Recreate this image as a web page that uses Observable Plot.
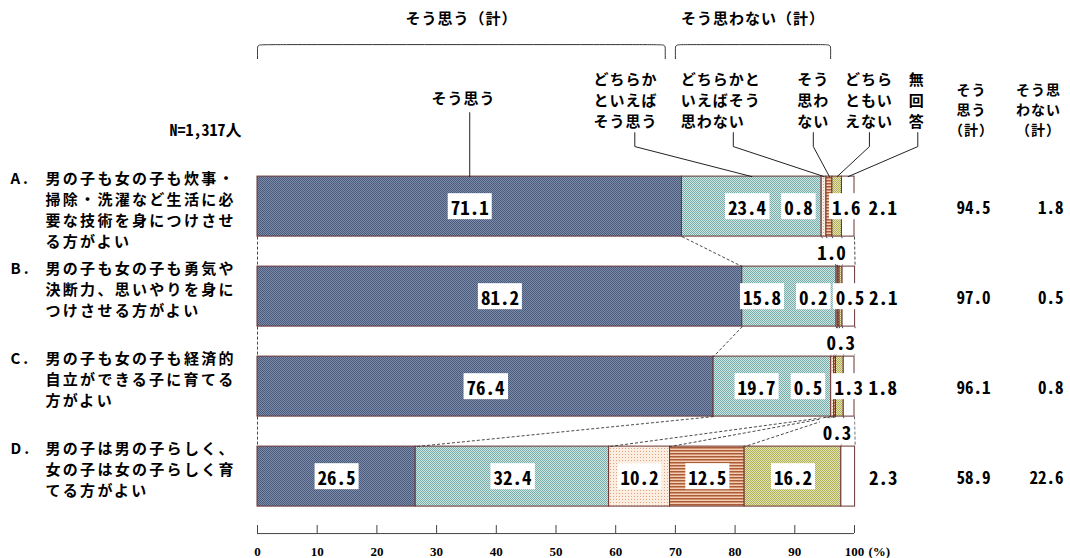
<!DOCTYPE html>
<html>
<head>
<meta charset="utf-8">
<script src="https://cdn.jsdelivr.net/npm/d3@7"></script>
<script src="https://cdn.jsdelivr.net/npm/@observablehq/plot@0.6"></script>
<style>
  body { margin: 0; background: #fff; }
  #chart svg { display: block; }
  text[aria-label="item text"] { letter-spacing: 2.3px; }
  text[aria-label="item letter"] { letter-spacing: 3px; }
  text[aria-label="legend text"] { letter-spacing: 1px; }
  text[aria-label="total header"] { letter-spacing: 1px; }
</style>
</head>
<body>
<svg width="0" height="0" style="position:absolute">
  <defs>
    <pattern id="pat-agree" width="2" height="2" patternUnits="userSpaceOnUse">
      <rect width="2" height="2" fill="#7d8ca8"/>
      <rect width="1" height="1" fill="#4a5a7c"/>
      <rect x="1" y="1" width="1" height="1" fill="#4a5a7c"/>
    </pattern>
    <pattern id="pat-lean-agree" width="2" height="2" patternUnits="userSpaceOnUse">
      <rect width="2" height="2" fill="#d0e6e3"/>
      <rect width="1" height="1" fill="#76acaa"/>
      <rect x="1" y="1" width="1" height="1" fill="#76acaa"/>
    </pattern>
    <pattern id="pat-lean-disagree" width="3" height="3" patternUnits="userSpaceOnUse">
      <rect width="3" height="3" fill="#fcede1"/>
      <rect x="1" y="1" width="1" height="1" fill="#dfa383"/>
    </pattern>
    <pattern id="pat-disagree" width="3" height="3" patternUnits="userSpaceOnUse">
      <rect width="3" height="3" fill="#f2cdb4"/>
      <rect width="3" height="1" fill="#a85c38"/>
      <rect y="1" width="3" height="1" fill="#d39370"/>
    </pattern>
    <pattern id="pat-neutral" width="2" height="2" patternUnits="userSpaceOnUse">
      <rect width="2" height="2" fill="#e3e3b3"/>
      <rect width="1" height="1" fill="#b0b058"/>
      <rect x="1" y="1" width="1" height="1" fill="#b0b058"/>
    </pattern>
  </defs>
</svg>
<div id="chart"></div>
<script>
// ---- data ----------------------------------------------------------------
const itemLetters = ["A.", "B.", "C.", "D."];
const itemTexts = [
  "男の子も女の子も炊事・\n掃除・洗濯など生活に必\n要な技術を身につけさせ\nる方がよい",
  "男の子も女の子も勇気や\n決断力、思いやりを身に\nつけさせる方がよい",
  "男の子も女の子も経済的\n自立ができる子に育てる\n方がよい",
  "男の子は男の子らしく、\n女の子は女の子らしく育\nてる方がよい"
];
const responses = ["そう思う", "どちらかといえばそう思う", "どちらかといえばそう思わない", "そう思わない", "どちらともいえない", "無回答"];
const legendTexts = ["そう思う", "どちらか\nといえば\nそう思う", "どちらかと\nいえばそう\n思わない", "そう\n思わ\nない", "どちら\nともい\nえない", "無\n回\n答"];
const rowA = [71.1, 23.4, 0.8, 1.0, 1.6, 2.1];
const rowB = [81.2, 15.8, 0.2, 0.3, 0.5, 2.1];
const rowC = [76.4, 19.7, 0.5, 0.3, 1.3, 1.8];
const rowD = [26.5, 32.4, 10.2, 12.5, 16.2, 2.3];
const agreeTotals = [94.5, 97.0, 96.1, 58.9];
const disagreeTotals = [1.8, 0.5, 0.8, 22.6];
const totalHeaders = ["そう\n思う\n（計）", "そう思\nわない\n（計）"];
const groupTitles = ["そう思う（計）", "そう思わない（計）"];
const sampleLabel = "N=1,317人";
const xTicks = [0, 10, 20, 30, 40, 50, 60, 70, 80, 90, 100];
const unitLabel = "(%)";

// ---- styling ---------------------------------------------------------------
const jp = "'Noto Sans CJK JP', 'Noto Sans', sans-serif";
const mono = "'Noto Sans Mono CJK JP', 'DejaVu Sans Mono', monospace";
const serif = "'Liberation Serif', 'DejaVu Serif', serif";
const fills = ["url(#pat-agree)", "url(#pat-lean-agree)", "url(#pat-lean-disagree)", "url(#pat-disagree)", "url(#pat-neutral)", "#ffffff"];
const edge = "#6a3434";
const tag = name => () => name;   // per-element aria-label, used for styling hooks

// y is measured in rows: row i is centred on i, bars are 2/3 of a row tall
const half = 1 / 3;
const rows = [rowA, rowB, rowC, rowD];

const segments = rows.flatMap((vals, row) => {
  let acc = 0;
  return vals.map((value, k) => {
    const x1 = acc;
    acc += value;
    return {row, k, value, x1, x2: acc, mid: (x1 + acc) / 2};
  });
});
const segsOf = r => segments.filter(d => d.row === r);

// dashed guides linking matching boundaries of neighbouring bars
const connectors = [];
for (let r = 0; r < rows.length - 1; r++) {
  const up = segsOf(r), dn = segsOf(r + 1);
  connectors.push({x1: 0, x2: 0, y1: r + half, y2: r + 1 - half});
  up.forEach((d, k) => connectors.push({x1: d.x2, x2: dn[k].x2, y1: r + half, y2: r + 1 - half}));
}

// where each value label goes: wide segments are labelled in place,
// thin ones are pushed aside so that the numbers stay readable
const SMALL = 5;
const ROOM = 12.5;  // room (in %) kept free for a pushed-aside label
const valueLabels = segments.map(d => {
  const text = d.value.toFixed(1);
  const rs = segsOf(d.row);
  if (d.k === 5) return {text, x: d.x2, y: d.row, place: "outside"};
  if (d.value >= SMALL) {
    const crowded = d.k === 1 && rs[2].value < SMALL;
    return {text, x: crowded ? Math.min(d.mid, d.x2 - ROOM) : d.mid, y: d.row, place: "centre"};
  }
  if (d.k === 2) return {text, x: d.x1, y: d.row, place: "before"};
  if (d.k === 3) return {text, x: d.mid, y: d.row + 0.5, place: "below"};
  return {text, x: d.mid, y: d.row, place: "after"};
});
const placeStyle = {
  centre: {textAnchor: "middle", dx: 0},
  before: {textAnchor: "end", dx: -9},
  below: {textAnchor: "middle", dx: 2},
  after: {textAnchor: "middle", dx: 9},
  outside: {textAnchor: "start", dx: 14}
};
const valueMarks = Object.entries(placeStyle).map(([place, s]) =>
  Plot.text(valueLabels.filter(d => d.place === place), {
    x: "x", y: "y", text: "text", ...s, dy: 2,
    fontFamily: mono, fontSize: 19, fontWeight: "bold", fill: "#000",
    ariaLabel: tag("value label")
  })
);

// key across the top, with leader lines down to the first bar
const legendLayout = [
  {textX: 34.5, leaderX: null},
  {textX: 56.3, leaderX: 63.2},
  {textX: 70.9, leaderX: 79.7},
  {textX: 90.4, leaderX: 93.1},
  {textX: 98.4, leaderX: 102.5},
  {textX: 109.1, leaderX: 110.6}
];
const legendY = -1.189, leaderTop = -0.822, leaderTopSingle = -1.044, leaderKnee = -0.667;
const firstRow = segsOf(0);
const legendItems = legendTexts.map((text, k) => ({text, x: legendLayout[k].textX, k}));
const leaderPts = legendLayout.flatMap((L, k) => {
  const end = {x: firstRow[k].mid, y: -half, k};
  if (L.leaderX === null) return [{x: end.x, y: leaderTopSingle, k}, end];
  return [{x: L.leaderX, y: leaderTop, k}, {x: L.leaderX, y: leaderKnee, k}, end];
});

// group brackets
const braceTop = -1.8, braceEnd = -1.644, titleY = -2.078;
const braces = [{x0: 0, x1: 68.3, title: groupTitles[0]}, {x0: 70.0, x1: 96.0, title: groupTitles[1]}];
const bracePts = braces.flatMap((b, i) => [
  [b.x0, braceEnd], [b.x0, braceTop + 0.05], [b.x0, braceTop], [b.x0 + 1.2, braceTop],
  [b.x1 - 1.2, braceTop], [b.x1, braceTop], [b.x1, braceTop + 0.05], [b.x1, braceEnd]
].map(([x, y]) => ({x, y, i})));

const items = itemTexts.map((text, row) => ({row, text, letter: itemLetters[row]}));
const totals = agreeTotals.map((v, row) => ({row, agree: v.toFixed(1), disagree: disagreeTotals[row].toFixed(1)}));
const headers = totalHeaders.map((text, i) => ({text, i}));

const axisY = 3.633, tickTop = 3.544, tickLabelY = 3.833;

const chart = Plot.plot({
  width: 1070,
  height: 558,
  marginLeft: 257,
  marginRight: 216,
  marginTop: 0,
  marginBottom: 0,
  x: {domain: [0, 100], axis: null},
  y: {domain: [-2.29, 3.91], range: [0, 558], axis: null},
  color: {type: "identity"},
  style: {fontFamily: jp, color: "#000", background: "#fff"},
  marks: [
    // bars
    Plot.rect(segments, {
      x1: "x1", x2: "x2", y1: d => d.row - half, y2: d => d.row + half,
      fill: d => fills[d.k], stroke: edge, strokeWidth: 1
    }),
    Plot.link(connectors, {
      x1: "x1", y1: "y1", x2: "x2", y2: "y2",
      stroke: "#333", strokeWidth: 0.9, strokeDasharray: "3,2"
    }),
    ...valueMarks,

    // item captions on the left
    Plot.text(items, {
      y: d => d.row - half, text: "letter", frameAnchor: "left", textAnchor: "start",
      lineAnchor: "top", dx: -247, dy: -8, fontSize: 15, fontWeight: "bold", lineHeight: 1.4,
      ariaLabel: tag("item letter")
    }),
    Plot.text(items, {
      y: d => d.row - half, text: "text", frameAnchor: "left", textAnchor: "start",
      lineAnchor: "top", dx: -212, dy: -8, fontSize: 15, fontWeight: "bold", lineHeight: 1.4,
      ariaLabel: tag("item text")
    }),
    Plot.text([sampleLabel], {
      y: -0.844, text: d => d, frameAnchor: "left", textAnchor: "end", dx: -16,
      fontFamily: mono, fontSize: 16, fontWeight: "bold"
    }),

    // totals on the right
    Plot.text(headers.filter(d => d.i === 0), {
      y: -1.089, text: "text", frameAnchor: "right", textAnchor: "middle", dx: 117,
      fontSize: 14, fontWeight: "bold", lineHeight: 1.45, ariaLabel: tag("total header")
    }),
    Plot.text(headers.filter(d => d.i === 1), {
      y: -1.089, text: "text", frameAnchor: "right", textAnchor: "middle", dx: 184,
      fontSize: 14, fontWeight: "bold", lineHeight: 1.45, ariaLabel: tag("total header")
    }),
    Plot.text(totals, {
      y: "row", text: "agree", frameAnchor: "right", textAnchor: "end", dx: 136, dy: 2,
      fontFamily: mono, fontSize: 17, fontWeight: "bold"
    }),
    Plot.text(totals, {
      y: "row", text: "disagree", frameAnchor: "right", textAnchor: "end", dx: 209, dy: 2,
      fontFamily: mono, fontSize: 17, fontWeight: "bold"
    }),

    // key and leaders
    Plot.line(leaderPts, {x: "x", y: "y", z: "k", stroke: "#222", strokeWidth: 1}),
    Plot.text(legendItems.filter(d => d.k === 0), {
      x: "x", y: legendY, text: "text", textAnchor: "middle",
      fontSize: 15, fontWeight: "bold", ariaLabel: tag("legend text")
    }),
    Plot.text(legendItems.filter(d => d.k > 0), {
      x: "x", y: legendY, text: "text", textAnchor: "start", lineAnchor: "middle",
      fontSize: 15, fontWeight: "bold", lineHeight: 1.4, ariaLabel: tag("legend text")
    }),

    // brackets and group titles
    Plot.line(bracePts, {x: "x", y: "y", z: "i", curve: "basis", stroke: "#333", strokeWidth: 1}),
    Plot.text(braces, {
      x: d => (d.x0 + d.x1) / 2, y: titleY, text: "title",
      fontSize: 15, fontWeight: "bold", ariaLabel: tag("legend text")
    }),

    // percentage axis
    Plot.ruleY([axisY], {x1: 0, x2: 100, stroke: "#444", strokeWidth: 1}),
    Plot.ruleX(xTicks, {y1: tickTop, y2: axisY, stroke: "#444", strokeWidth: 1}),
    Plot.text(xTicks, {x: d => d, y: tickLabelY, text: d => String(d), fontFamily: serif, fontSize: 13, fontWeight: "bold"}),
    Plot.text([unitLabel], {x: 100, y: tickLabelY, text: d => d, textAnchor: "start", dx: 14, fontFamily: serif, fontSize: 13, fontWeight: "bold"})
  ]
});

document.getElementById("chart").appendChild(chart);

// white boxes behind the value labels
chart.querySelectorAll('text[aria-label="value label"]').forEach(t => {
  const b = t.getBBox();
  const cy = b.y + b.height / 2;
  const r = document.createElementNS("http://www.w3.org/2000/svg", "rect");
  r.setAttribute("x", b.x - 3);
  r.setAttribute("y", cy - 13);
  r.setAttribute("width", b.width + 6);
  r.setAttribute("height", 26);
  r.setAttribute("fill", "#fff");
  if (t.getAttribute("transform")) r.setAttribute("transform", t.getAttribute("transform"));
  t.parentNode.insertBefore(r, t);
});
</script>
</body>
</html>
